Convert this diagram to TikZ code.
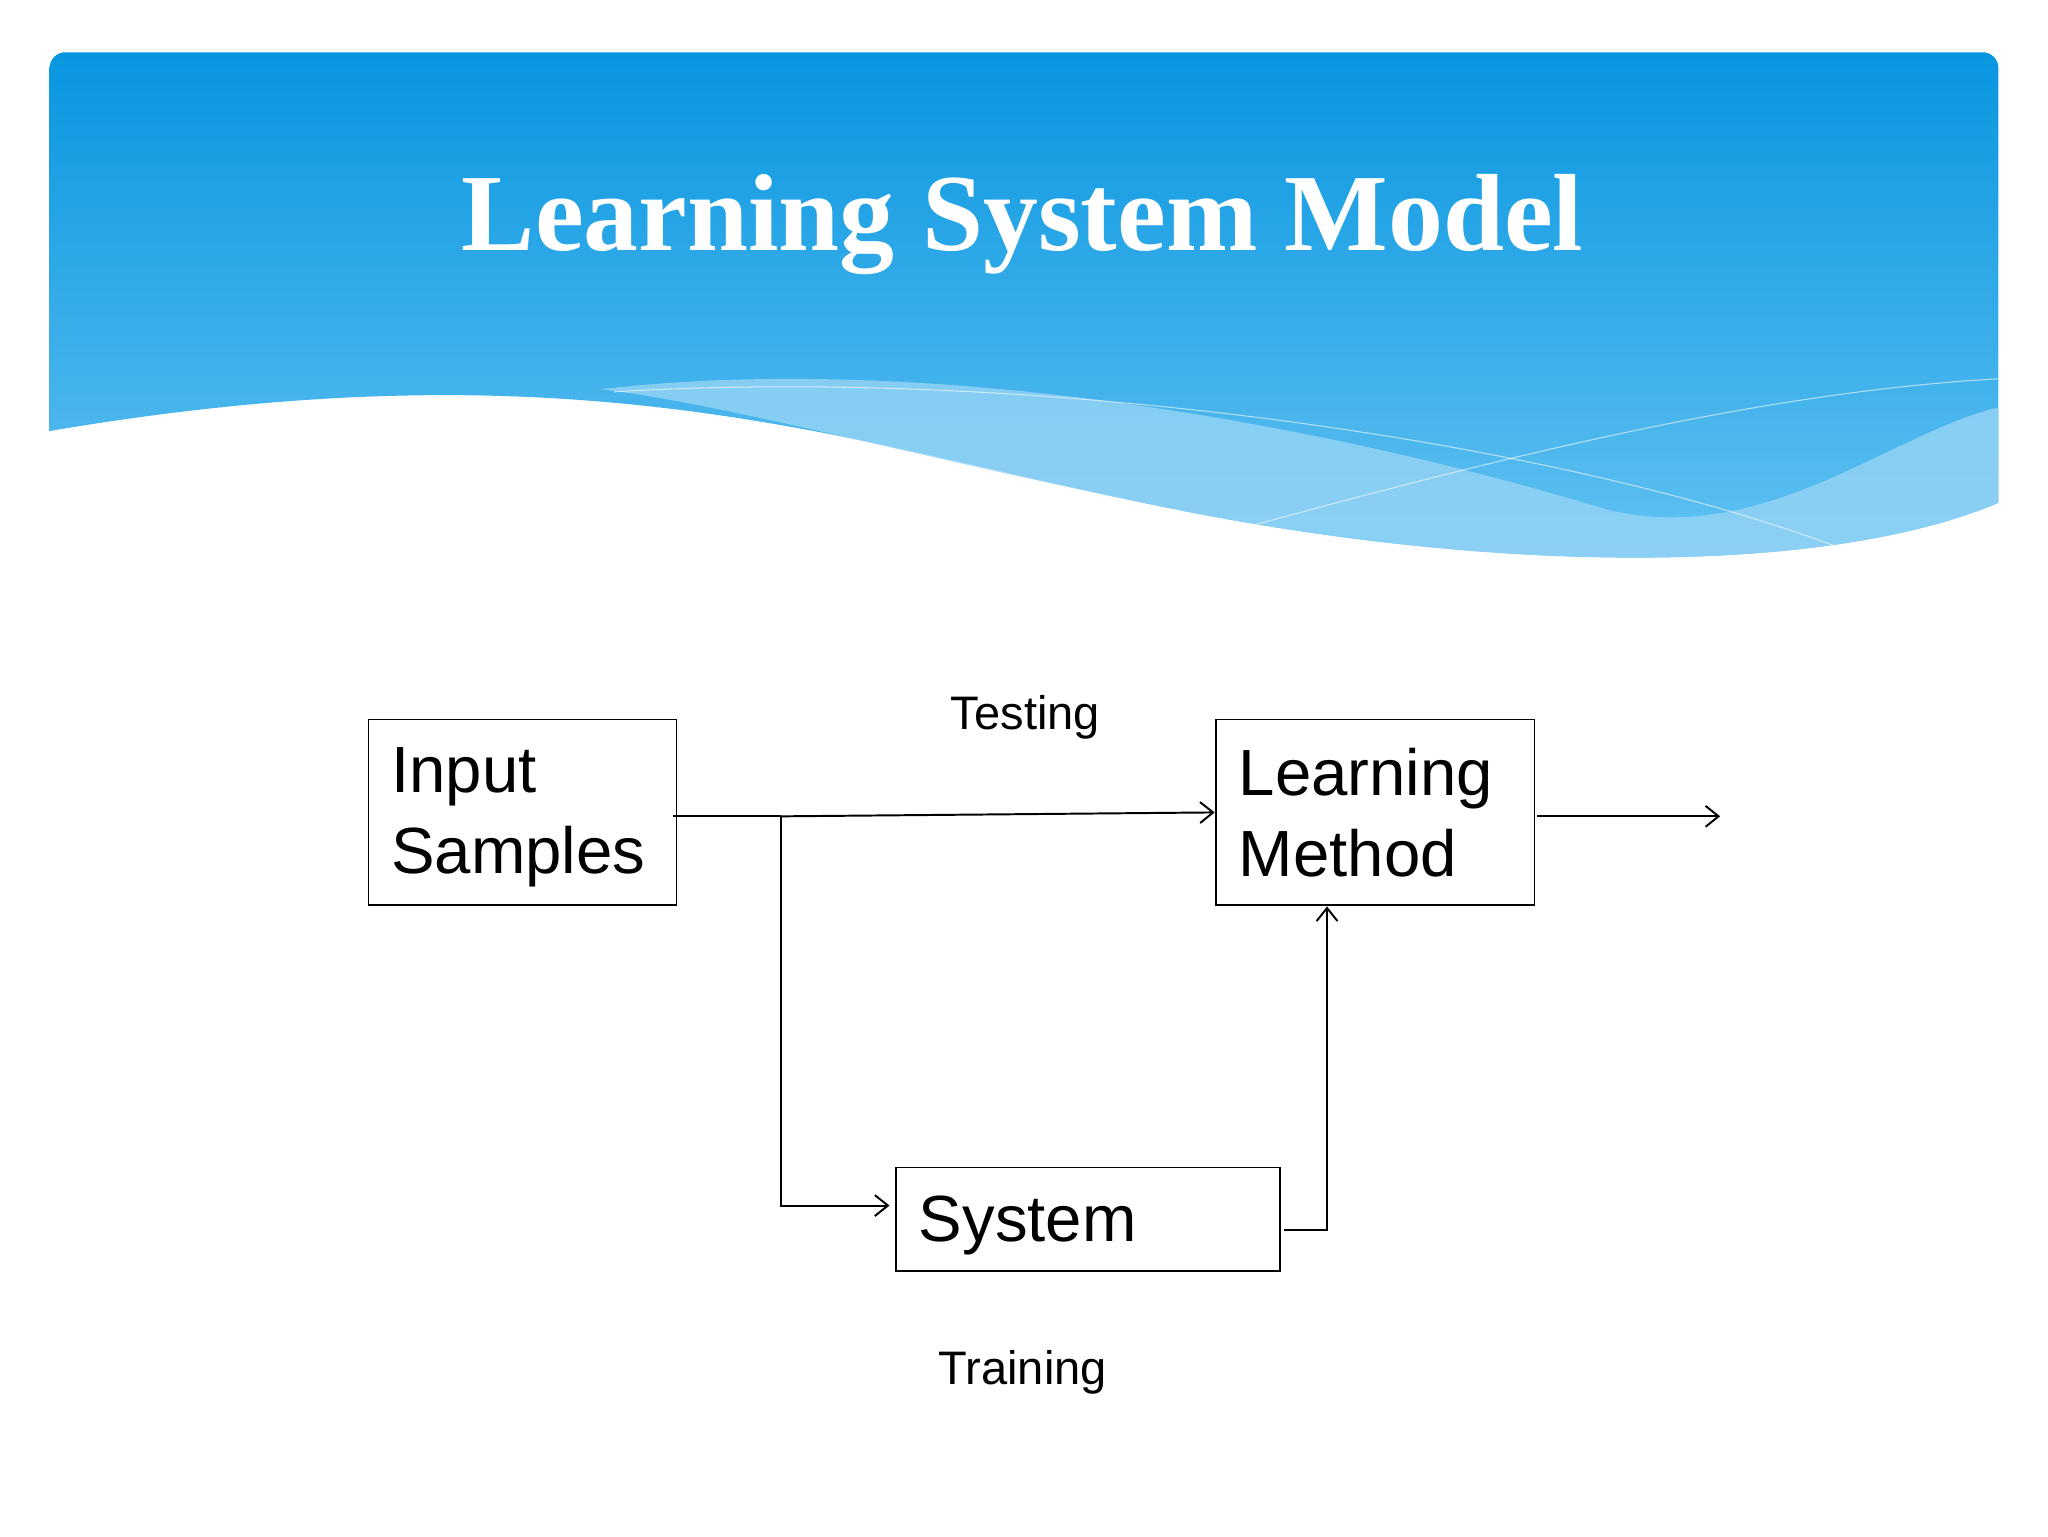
\documentclass[tikz,border=0pt]{standalone}
\usepackage{fontspec}
\setmainfont{Liberation Sans}
\newfontfamily\titlefont{Liberation Serif}
\usetikzlibrary{arrows.meta}
\definecolor{hdtop}{RGB}{8,150,224}
\definecolor{hdbot}{RGB}{100,195,242}
\definecolor{wave}{RGB}{150,212,245}
\begin{document}
\begin{tikzpicture}[x=1pt,y=-1pt,
  box/.style={draw,line width=1.2pt,inner sep=0pt},
  lbl/.style={font=\fontsize{36}{40}\selectfont},
  btxt/.style={font=\fontsize{50}{62}\selectfont,align=left,anchor=north west},
  conn/.style={line width=1.5pt,-{Straight Barb[length=10pt,width=16pt]}}]
\useasboundingbox (0,0) rectangle (1568,1176);
\fill[white] (0,0) rectangle (1568,1176);
% header
\shade[top color=hdtop,bottom color=hdbot]
 (38,330) [rounded corners=12pt] -- (38,40) -- (1530,40) [sharp corners] -- (1530,385)
 .. controls (1400,440) and (1150,440) .. (900,390)
 .. controls (650,340) and (450,260) .. (38,330) -- cycle;
\fill[wave,opacity=0.8]
 (460,298) .. controls (700,270) and (1000,320) .. (1230,390)
 .. controls (1350,420) and (1450,330) .. (1530,312) -- (1530,385)
 .. controls (1400,440) and (1150,440) .. (900,390) .. controls (700,350) and (560,310) .. (460,298) -- cycle;
\draw[white,opacity=0.6,line width=0.8pt] (470,300) .. controls (800,280) and (1200,340) .. (1410,420);
\draw[white,opacity=0.6,line width=0.8pt] (960,402) .. controls (1150,350) and (1350,300) .. (1530,290);
\node[text=white,font=\titlefont\bfseries\fontsize{84}{96}\selectfont] (title) at (783,172) {Learning System Model};
% boxes
\draw[box] (282,551) rectangle (518,693);
\node[btxt] (in) at (296,569) {Input\\Samples};
\draw[box] (931,551) rectangle (1175,693);
\node[btxt] (lm) at (945,569) {Learning\\Method};
\draw[box] (686,894) rectangle (980,973);
\node[btxt] (sys) at (700,912) {System};
\coordinate (a0) at (515,625); \coordinate (a1) at (598,625);
\coordinate (a2) at (930,622); \coordinate (a3) at (598,923); \coordinate (a4) at (681,923);
\coordinate (b0) at (983,942); \coordinate (b1) at (1016,942); \coordinate (b2) at (1016,694);
\coordinate (c0) at (1177,625); \coordinate (c1) at (1317,625);
\draw[line width=1.5pt] (a0) -- (a1);
\draw[conn] (a1) -- (a2);
\draw[conn] (a1) -- (a3) -- (a4);
\draw[conn] (b0) -- (b1) -- (b2);
\draw[conn] (c0) -- (c1);
\node[lbl] (t1) at (785,549) {Testing};
\node[lbl] (t2) at (783,1051) {Training};
\end{tikzpicture}
\end{document}
